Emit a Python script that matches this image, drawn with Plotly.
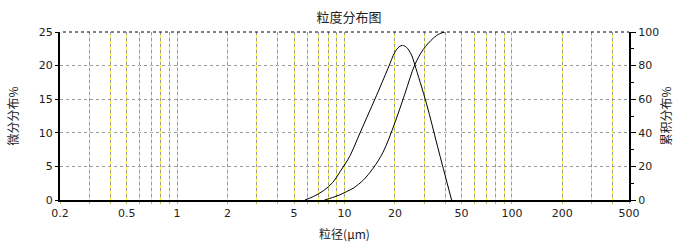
import numpy as np
import plotly.graph_objects as go

# ---- data ----
diff_x = [5.8, 6.5, 7.5, 8.5, 9.4, 10.8, 12.0, 13.6, 15.5, 18.2, 20.0, 21.2, 22.2, 23.5, 25.1, 26.3, 30.9, 36.0, 43.6]
diff_y = [0.0, 0.5, 1.4, 2.6, 4.2, 6.6, 9.2, 12.3, 15.5, 19.6, 22.0, 22.8, 23.0, 22.7, 21.6, 20.1, 14.3, 7.9, 0.0]
cum_x = [7.6, 8.5, 9.4, 10.3, 11.3, 13.0, 14.8, 17.0, 20.0, 22.9, 26.3, 29.5, 33.9, 37.0, 39.8]
cum_y = [0.0, 1.5, 3.1, 5.0, 7.1, 12.0, 18.8, 28.5, 46.0, 63.0, 80.5, 89.5, 96.3, 99.0, 100.0]

grid_vals = [0.2, 0.3, 0.4, 0.5, 0.6, 0.7, 0.8, 0.9, 1, 2, 3, 4, 5, 6, 7, 8, 9, 10,
             20, 30, 40, 50, 60, 70, 80, 90, 100, 200, 300, 400, 500]
labeled = [0.2, 0.5, 1, 2, 5, 10, 20, 50, 100, 200, 500]
left_ticks = [0, 5, 10, 15, 20, 25]
right_ticks = [0, 20, 40, 60, 80, 100]

title_text = "粒度分布图"
xtitle = "粒径(μm)"
ytitle_left = "微分分布%"
ytitle_right = "累积分布%"

def fmt(v):
    return ("%g" % v)

tick_text = [fmt(v) if v in labeled else "" for v in grid_vals]

tickfont = dict(family="DejaVu Sans", size=11, color="#222")
cjk = "Noto Sans CJK SC"

fig = go.Figure()
fig.add_trace(go.Scatter(x=diff_x, y=diff_y, mode="lines",
                         line=dict(color="black", width=1, shape="spline", smoothing=1.0),
                         xaxis="x", yaxis="y", showlegend=False))
fig.add_trace(go.Scatter(x=cum_x, y=cum_y, mode="lines",
                         line=dict(color="black", width=1, shape="spline", smoothing=1.0),
                         xaxis="x", yaxis="y2", showlegend=False))
# invisible copy to register the overlay x axis (yellow dashes of grid)
fig.add_trace(go.Scatter(x=diff_x, y=diff_y, mode="lines", opacity=0,
                         line=dict(width=0), hoverinfo="skip",
                         xaxis="x2", yaxis="y", showlegend=False))

xr = [np.log10(grid_vals[0]), np.log10(grid_vals[-1])]

fig.update_layout(
    width=698, height=252,
    margin=dict(l=60, r=69, t=32, b=50),
    paper_bgcolor="white", plot_bgcolor="white",
    title=dict(text=title_text, x=0.5, xanchor="center", y=0.93, yanchor="middle",
               font=dict(family=cjk, size=13, color="#222")),
    xaxis=dict(type="log", range=xr, tickmode="array", tickvals=grid_vals,
               ticktext=tick_text, tickfont=tickfont,
               showgrid=True, gridcolor="#9a9a9a", griddash="3px,3px", gridwidth=1,
               showline=True, linecolor="black", linewidth=2,
               ticks="outside", ticklen=2, tickcolor="#bbbb44",
               title=dict(text=xtitle, font=dict(family=cjk, size=12, color="#222"), standoff=11),
               zeroline=False),
    xaxis2=dict(type="log", range=xr, overlaying="x", anchor="y", side="bottom",
                tickmode="array", tickvals=grid_vals, showticklabels=False,
                showgrid=True, gridcolor="#f2ef50", griddash="0px,3px,3px,0px", gridwidth=1,
                showline=False, ticks="", zeroline=False),
    yaxis=dict(range=[0, 25], tickmode="array", tickvals=left_ticks, tickfont=tickfont,
               showgrid=True, gridcolor="#9a9a9a", griddash="3px,3px", gridwidth=1,
               showline=True, linecolor="black", linewidth=2,
               ticks="outside", ticklen=3, tickcolor="black",
               title=dict(text=ytitle_left, font=dict(family=cjk, size=12, color="#222"), standoff=18),
               zeroline=False),
    yaxis2=dict(range=[0, 100], overlaying="y", side="right", anchor="x",
                tickmode="array", tickvals=right_ticks, tickfont=tickfont,
                showgrid=False, showline=True, linecolor="black", linewidth=2,
                ticks="outside", ticklen=5, tickcolor="black",
                minor=dict(dtick=10, ticks="outside", ticklen=3, tickcolor="black"),
                title=dict(text=ytitle_right, font=dict(family=cjk, size=12, color="#222"), standoff=4),
                zeroline=False),
)
# dark dashes on top border, offset against the grey grid dashes
fig.add_shape(type="line", xref="paper", yref="paper", x0=0, x1=1, y0=1, y1=1,
              line=dict(color="black", width=1, dash="0px,3px,3px,0px"), layer="above")

fig.write_html("out.html")
